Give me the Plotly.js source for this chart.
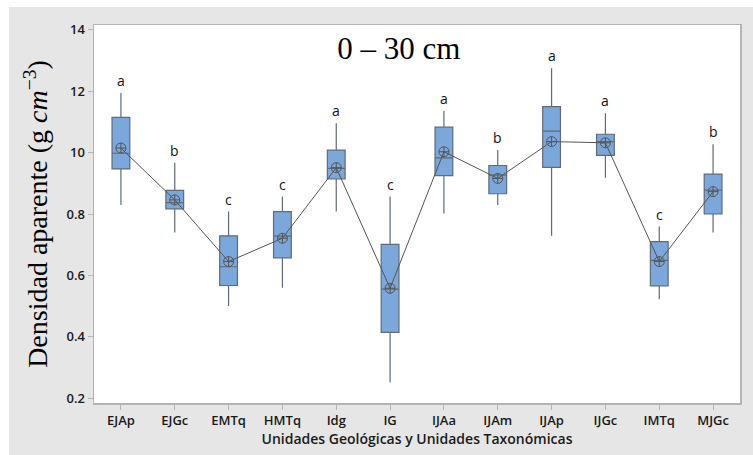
<!DOCTYPE html>
<html>
<head>
<meta charset="utf-8">
<script src="https://cdn.plot.ly/plotly-3.0.1.min.js"></script>
<style>
html,body{margin:0;padding:0;background:#ffffff;}
#bg{position:absolute;left:9px;top:7px;width:744px;height:448px;background:#e6e6e6;}
#chart{position:absolute;left:0;top:0;width:753px;height:455px;}
</style>
</head>
<body>
<div id="bg"></div>
<div id="chart"></div>
<script>
var categories = ["EJAp","EJGc","EMTq","HMTq","Idg","IG","IJAa","IJAm","IJAp","IJGc","IMTq","MJGc"];
var whiskerLow  = [0.829,0.740,0.500,0.560,0.808,0.251,0.802,0.829,0.729,0.918,0.522,0.740];
var q1Values    = [0.947,0.817,0.567,0.657,0.914,0.414,0.925,0.866,0.952,0.991,0.566,0.800];
var medians     = [0.998,0.837,0.628,0.728,0.949,0.555,0.983,0.927,1.070,1.036,0.649,0.878];
var q3Values    = [1.115,0.877,0.729,0.808,1.008,0.701,1.083,0.958,1.150,1.060,0.710,0.930];
var whiskerHigh = [1.194,0.967,0.808,0.857,1.096,0.857,1.136,1.009,1.275,1.128,0.759,1.027];
var means       = [1.015,0.846,0.645,0.721,0.951,0.558,1.003,0.916,1.036,1.032,0.645,0.873];
var groupLetters = ["a","b","c","c","a","c","a","b","a","a","c","b"];
var yTickVals = [0.2,0.4,0.6,0.8,1.0,1.2,1.4];
var yTickText = ["0.2","0.4","0.6","0.8","10","12","14"];

var boxTrace = {
  type: "box",
  x: categories,
  q1: q1Values,
  median: medians,
  q3: q3Values,
  lowerfence: whiskerLow,
  upperfence: whiskerHigh,
  width: 0.33,
  whiskerwidth: 0,
  fillcolor: "#7ba7da",
  line: {color: "#5f6b78", width: 1.2},
  boxpoints: false,
  hoverinfo: "skip",
  showlegend: false
};

var meanTrace = {
  type: "scatter",
  mode: "lines+markers",
  x: categories,
  y: means,
  line: {color: "#555555", width: 1},
  marker: {symbol: "circle-cross-open", size: 10, color: "#555555", line: {width: 1}},
  hoverinfo: "skip",
  showlegend: false
};

var annotations = categories.map(function(c, i) {
  return {
    x: c, y: whiskerHigh[i], xref: "x", yref: "y",
    text: groupLetters[i], showarrow: false,
    yanchor: "bottom", yshift: 1,
    font: {family: "Open Sans, sans-serif", size: 14, color: "#111111"}
  };
});

var layout = {
  width: 753, height: 455,
  margin: {l: 94, r: 13, t: 25, b: 52},
  paper_bgcolor: "rgba(0,0,0,0)",
  plot_bgcolor: "#ffffff",
  title: {
    text: "0 – 30 cm",
    font: {family: "Liberation Serif, Times New Roman, serif", size: 31, color: "#000000"},
    xref: "paper", x: 0.472, xanchor: "center",
    yref: "container", y: 0.894, yanchor: "middle"
  },
  xaxis: {
    type: "category",
    range: [-0.5, 11.5],
    showgrid: false, zeroline: false,
    showline: true, linecolor: "#b4b4b4", linewidth: 1.5, mirror: true,
    ticks: "outside", ticklen: 5, tickcolor: "#b4b4b4",
    tickfont: {family: "Open Sans, sans-serif", size: 13, color: "#1a1a1a", weight: 600},
    title: {
      text: "Unidades Geológicas y Unidades Taxonómicas",
      font: {family: "Open Sans, sans-serif", size: 14, color: "#1a1a1a", weight: 600},
      standoff: 4
    }
  },
  yaxis: {
    range: [0.184, 1.416],
    tickvals: yTickVals, ticktext: yTickText,
    showgrid: false, zeroline: false,
    showline: true, linecolor: "#b4b4b4", linewidth: 1.5, mirror: true,
    ticks: "outside", ticklen: 5, tickcolor: "#b4b4b4",
    tickfont: {family: "Open Sans, sans-serif", size: 13, color: "#1a1a1a", weight: 600},
    title: {
      text: "Densidad aparente (g <i>cm</i><sup>−3</sup>)",
      font: {family: "Liberation Serif, Times New Roman, serif", size: 28, color: "#000000"},
      standoff: 10
    }
  },
  annotations: annotations
};

Plotly.newPlot("chart", [boxTrace, meanTrace], layout, {displayModeBar: false, staticPlot: true});
</script>
</body>
</html>
